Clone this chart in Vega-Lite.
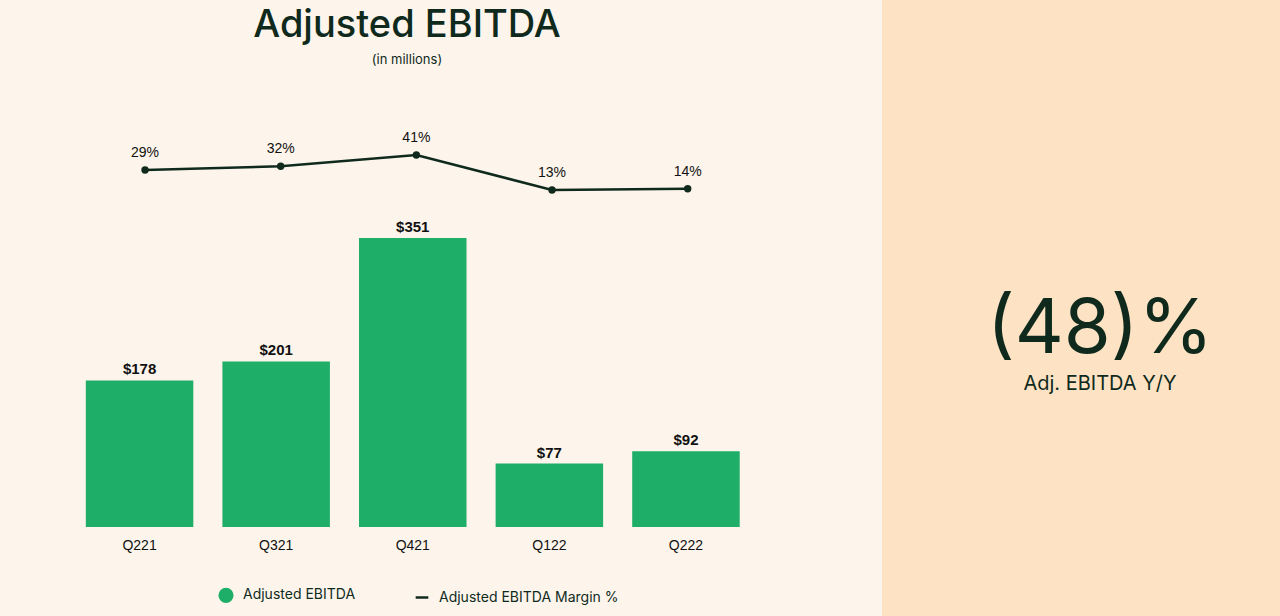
{
  "$schema": "https://vega.github.io/schema/vega-lite/v6.json",
  "padding": 0,
  "background": "#FDF5EB",
  "spacing": 68,
  "config": {"view": {"stroke": null}},
  "resolve": {"scale": {"color": "independent"}},
  "hconcat": [
    {
      "width": 814,
      "height": 527,
      "title": {
        "text": "Adjusted EBITDA",
        "subtitle": "(in millions)",
        "anchor": "middle",
        "frame": "group",
        "font": "Inter",
        "fontSize": 38,
        "fontWeight": 500,
        "color": "#0F2A1D",
        "subtitleFont": "Inter",
        "subtitleFontSize": 13,
        "subtitleColor": "#0F2A1D",
        "subtitlePadding": 9,
        "offset": -67
      },
      "data": {
        "values": [
          {"quarter": "Q221", "ebitda": 178, "margin": 0.29},
          {"quarter": "Q321", "ebitda": 201, "margin": 0.32},
          {"quarter": "Q421", "ebitda": 351, "margin": 0.41},
          {"quarter": "Q122", "ebitda": 77, "margin": 0.13},
          {"quarter": "Q222", "ebitda": 92, "margin": 0.14}
        ]
      },
      "resolve": {"scale": {"y": "independent", "x": "independent"}, "axis": {"x": "independent"}},
      "layer": [
        {
          "layer": [
            {
              "mark": {"type": "bar", "color": "#1EAE68"},
              "encoding": {
                "color": {
                  "datum": "Adjusted EBITDA",
                  "scale": {"domain": ["Adjusted EBITDA", "Adjusted EBITDA Margin %"], "range": ["#1EAE68", "#0F2A1D"]},
                  "legend": {
                    "orient": "none",
                    "legendX": 218,
                    "legendY": 587,
                    "direction": "horizontal",
                    "title": null,
                    "labelFont": "Inter",
                    "labelFontSize": 14,
                    "labelColor": "#0F2A1D",
                    "labelLimit": 300,
                    "labelOffset": 9,
                    "symbolSize": 160,
                    "columnPadding": 54,
                    "encode": {
                      "symbols": {
                        "update": {
                          "shape": {"signal": "datum.value === 'Adjusted EBITDA' ? 'circle' : 'stroke'"},
                          "fill": {"signal": "datum.value === 'Adjusted EBITDA' ? '#1EAE68' : 'transparent'"},
                          "stroke": {"signal": "datum.value === 'Adjusted EBITDA' ? 'transparent' : '#0F2A1D'"},
                          "strokeWidth": {"value": 2.5}
                        }
                      }
                    }
                  }
                }
              }
            },
            {
              "mark": {"type": "text", "font": "Liberation Sans", "fontWeight": "bold", "fontSize": 15, "baseline": "bottom", "dy": -3, "color": "#111111"},
              "encoding": {
                "text": {"field": "ebitda", "type": "quantitative", "format": "$.0f"}
              }
            }
          ],
          "encoding": {
            "x": {
              "field": "quarter", "type": "nominal", "sort": null,
              "scale": {"paddingInner": 0.213, "paddingOuter": 0.586, "align": 0.536},
              "axis": {"title": null, "labelAngle": 0, "domain": false, "ticks": false, "labelFont": "Liberation Sans", "labelFontSize": 14, "labelColor": "#111111", "labelPadding": 11}
            },
            "y": {"field": "ebitda", "type": "quantitative", "scale": {"domain": [0, 640.0], "nice": false, "zero": true}, "axis": null}
          }
        },
        {
          "layer": [
            {
              "mark": {"type": "line", "color": "#0F2A1D", "strokeWidth": 2.5, "point": {"filled": true, "size": 55, "color": "#0F2A1D"}},
              "encoding": {
                "color": {"datum": "Adjusted EBITDA Margin %", "legend": null}
              }
            },
            {
              "mark": {"type": "text", "font": "Liberation Sans", "fontSize": 14, "baseline": "bottom", "dy": -10, "color": "#111111"},
              "encoding": {
                "text": {"field": "margin", "type": "quantitative", "format": ".0%"}
              }
            }
          ],
          "encoding": {
            "x": {
              "field": "quarter", "type": "nominal", "sort": null,
              "scale": {"type": "point", "padding": 1.0204, "align": 0.5345},
              "axis": null
            },
            "y": {"field": "margin", "type": "quantitative", "scale": {"domain": [-2.566, 1.65], "nice": false, "zero": false}, "axis": null}
          }
        }
      ]
    },
    {
      "width": 398,
      "height": 616,
      "view": {"fill": "#FDE3C4", "stroke": null},
      "data": {"values": [{"headline": "(48)%", "caption": "Adj. EBITDA Y/Y"}]},
      "layer": [
        {
          "mark": {"type": "text", "font": "Inter", "fontSize": 76, "fontWeight": 400, "color": "#0F2A1D", "baseline": "middle", "dx": 19, "dy": 22},
          "encoding": {"text": {"field": "headline", "type": "nominal"}}
        },
        {
          "mark": {"type": "text", "font": "Inter", "fontSize": 20, "fontWeight": 400, "color": "#0F2A1D", "baseline": "middle", "dx": 19, "dy": 76},
          "encoding": {"text": {"field": "caption", "type": "nominal"}}
        }
      ]
    }
  ]
}
